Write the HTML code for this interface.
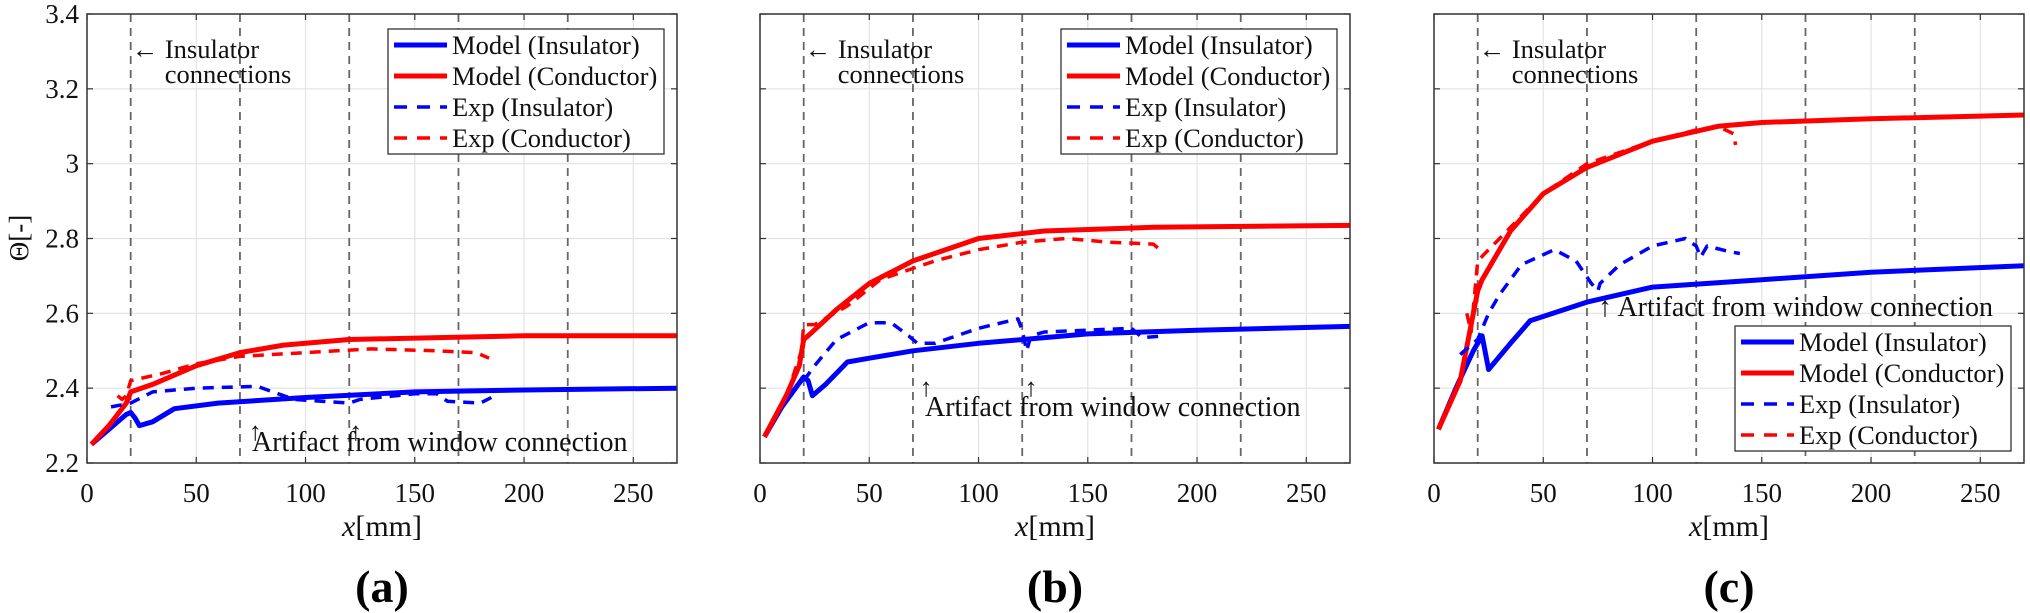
<!DOCTYPE html>
<html><head><meta charset="utf-8"><style>
html,body{margin:0;padding:0;background:#fff;}
svg{display:block;font-family:"Liberation Serif",serif;}
</style></head><body>
<svg id="chart" width="2030" height="613" viewBox="0 0 2030 613" xmlns="http://www.w3.org/2000/svg"></svg>
<script>
const xTicks=[0,50,100,150,200,250];
const yTicks=[2.2,2.4,2.6,2.8,3,3.2,3.4];
const yTickLabels=["2.2","2.4","2.6","2.8","3","3.2","3.4"];
const connections=[20,70,120,170,220];
const panelLabels=["(a)","(b)","(c)"];
const seriesNames=["Model (Insulator)","Model (Conductor)","Exp (Insulator)","Exp (Conductor)"];
// panel a
const aModelInsX=[2,10,18,20,22,24,30,40,60,100,150,200,270];
const aModelInsY=[2.25,2.29,2.33,2.335,2.32,2.30,2.31,2.345,2.36,2.375,2.39,2.395,2.40];
const aModelCondX=[2,10,18,20,30,50,70,90,120,200,270];
const aModelCondY=[2.25,2.30,2.36,2.39,2.41,2.46,2.495,2.515,2.53,2.54,2.54];
const aExpInsX=[11,20,30,50,78,85,95,120,125,150,160,165,180,185];
const aExpInsY=[2.35,2.36,2.39,2.40,2.405,2.39,2.37,2.36,2.37,2.385,2.385,2.365,2.36,2.375];
const aExpCondX=[14,16,18,20,35,50,70,100,130,160,178,184];
const aExpCondY=[2.38,2.37,2.38,2.42,2.44,2.465,2.485,2.495,2.505,2.50,2.495,2.48];
// panel b
const bModelInsX=[2,10,20,22,24,30,40,50,70,100,150,200,270];
const bModelInsY=[2.27,2.35,2.43,2.42,2.38,2.41,2.47,2.48,2.50,2.52,2.545,2.555,2.565];
const bModelCondX=[2,12,18,20,22,35,50,70,100,130,180,270];
const bModelCondY=[2.27,2.38,2.46,2.53,2.54,2.61,2.68,2.74,2.80,2.82,2.83,2.835];
const bExpInsX=[20,25,35,50,60,68,72,80,100,118,120,122,124,130,170,175,185];
const bExpInsY=[2.42,2.46,2.53,2.575,2.575,2.54,2.52,2.52,2.56,2.585,2.555,2.50,2.54,2.55,2.56,2.535,2.54];
const bExpCondX=[15,19,20,25,40,55,70,80,100,120,140,160,180,183];
const bExpCondY=[2.43,2.50,2.57,2.57,2.62,2.69,2.72,2.74,2.77,2.79,2.80,2.79,2.785,2.77];
// panel c
const cModelInsX=[2,10,18,22,25,35,44,70,100,150,200,270];
const cModelInsY=[2.29,2.40,2.50,2.54,2.45,2.52,2.58,2.63,2.67,2.69,2.71,2.727];
const cModelCondX=[2,12,20,22,35,50,70,100,130,150,200,270];
const cModelCondY=[2.29,2.42,2.66,2.69,2.82,2.92,2.99,3.06,3.10,3.11,3.12,3.13];
const cExpInsX=[12,20,25,30,40,55,65,72,75,76,85,100,115,120,122,125,135,140];
const cExpInsY=[2.49,2.53,2.60,2.65,2.73,2.77,2.74,2.68,2.66,2.68,2.73,2.78,2.80,2.78,2.75,2.78,2.765,2.76];
const cExpCondX=[15,17,20,30,50,70,100,120,130,137,138];
const cExpCondY=[2.60,2.55,2.74,2.80,2.92,3.00,3.06,3.09,3.10,3.08,3.05];

const svg=document.getElementById('chart');
const NS='http://www.w3.org/2000/svg';
function mk(tag,attrs,parent){const e=document.createElementNS(NS,tag);for(const k in attrs)e.setAttribute(k,attrs[k]);(parent||svg).appendChild(e);return e;}
const TOP=14,BOT=463,W=590;
const panels=[
 {x0:87,name:'a',series:[[aModelInsX,aModelInsY],[aModelCondX,aModelCondY],[aExpInsX,aExpInsY],[aExpCondX,aExpCondY]],legend:[388,29],art:[252,451],arrows:[[77,415,440],[123,415,440]],artText:'Artifact from window connection',ylab:true},
 {x0:760,name:'b',series:[[bModelInsX,bModelInsY],[bModelCondX,bModelCondY],[bExpInsX,bExpInsY],[bExpCondX,bExpCondY]],legend:[1061,29],art:[925,416],arrows:[[76,372,396],[124,372,396]],artText:'Artifact from window connection',ylab:false},
 {x0:1434,name:'c',series:[[cModelInsX,cModelInsY],[cModelCondX,cModelCondY],[cExpInsX,cExpInsY],[cExpCondX,cExpCondY]],legend:[1735,326],art:[1598,316],arrows:[],artText:'\u2191 Artifact from window connection',ylab:false}
];
const colors=['#0000ff','#ff0000','#0000ff','#ff0000'];
panels.forEach((p,pi)=>{
 const sx=v=>p.x0+v/270*W, sy=v=>BOT-(v-2.2)/1.2*(BOT-TOP);
 const g=mk('g',{});
 
 
 xTicks.forEach(t=>{const l=mk('line',{x1:sx(t),x2:sx(t),y1:TOP,y2:BOT,stroke:'#e3e3e3','stroke-width':1.2},g);
  
  mk('line',{x1:sx(t),x2:sx(t),y1:BOT,y2:BOT-6,stroke:'#333','stroke-width':1.2},g);
  mk('line',{x1:sx(t),x2:sx(t),y1:TOP,y2:TOP+6,stroke:'#333','stroke-width':1.2},g);
  const tx=mk('text',{x:sx(t),y:BOT+39,'text-anchor':'middle','font-size':27,fill:'#111'},g);tx.textContent=t;
  });
 yTicks.forEach((t,i)=>{const l=mk('line',{x1:p.x0,x2:p.x0+W,y1:sy(t),y2:sy(t),stroke:'#e3e3e3','stroke-width':1.2},g);
  
  mk('line',{x1:p.x0,x2:p.x0+6,y1:sy(t),y2:sy(t),stroke:'#333','stroke-width':1.2},g);
  mk('line',{x1:p.x0+W,x2:p.x0+W-6,y1:sy(t),y2:sy(t),stroke:'#333','stroke-width':1.2},g);
  if(p.ylab){const tx=mk('text',{x:p.x0-8,y:sy(t)+9,'text-anchor':'end','font-size':27,fill:'#111'},g);tx.textContent=yTickLabels[i];
  }});
 connections.forEach(c=>{const l=mk('line',{x1:sx(c),x2:sx(c),y1:TOP,y2:BOT,stroke:'#666','stroke-width':1.8,'stroke-dasharray':'8,6'},g);
  });
 p.series.forEach((s,si)=>{let d='';s[0].forEach((x,i)=>{d+=(i?'L':'M')+sx(x).toFixed(1)+','+sy(s[1][i]).toFixed(1);});
  const at={d:d,fill:'none',stroke:colors[si],'stroke-width':si<2?5:3.5,'stroke-linejoin':'round'};
  if(si>=2)at['stroke-dasharray']='11,8';
  const path=mk('path',at,g);
  
  });
 const fr=mk('rect',{x:p.x0,y:TOP,width:W,height:BOT-TOP,fill:'none',stroke:'#333','stroke-width':1.5},g);
 
 const an=mk('text',{x:sx(20)+1,y:58,'font-size':26.5,fill:'#111'},g);an.textContent='\u2190 Insulator';
 
 const an2=mk('text',{x:sx(20)+34,y:83,'font-size':26.5,fill:'#111'},g);an2.textContent='connections';
 
 const at=mk('text',{x:p.art[0],y:p.art[1],'font-size':28,fill:'#111'},g);at.textContent=p.artText;
 
 p.arrows.forEach(a=>{const ar=mk('text',{x:sx(a[0]),y:a[2],'text-anchor':'middle','font-size':26,fill:'#111'},g);ar.textContent='\u2191';
  });
 const lg=mk('g',{},g);
 
 const [lx,ly]=p.legend;
 mk('rect',{x:lx,y:ly,width:276,height:125,fill:'#fff',stroke:'#333','stroke-width':1.3},lg);
 seriesNames.forEach((n,i)=>{const yy=ly+16+i*31;
  const ln=mk('line',{x1:lx+6,x2:lx+59,y1:yy,y2:yy,stroke:colors[i],'stroke-width':i<2?5:3.5},lg);
  if(i>=2)ln.setAttribute('stroke-dasharray','13,10');
  const t=mk('text',{x:lx+64,y:yy+9,'font-size':26.5,fill:'#111'},lg);t.textContent=n;
  });
 const xl=mk('text',{x:p.x0+W/2,y:536,'text-anchor':'middle','font-size':30,fill:'#111'},g);
 xl.innerHTML='<tspan font-style="italic">x</tspan>[mm]';
 
 const pl=mk('text',{x:p.x0+W/2,y:602,'text-anchor':'middle','font-size':46,'font-weight':'bold',fill:'#000'},g);pl.textContent=panelLabels[pi];
 
 if(p.ylab){const yl=mk('text',{x:0,y:0,'text-anchor':'middle','font-size':27,fill:'#111',transform:'translate(28,238) rotate(-90)'},g);yl.textContent='\u0398[-]';
  }
});
</script>
</body></html>
